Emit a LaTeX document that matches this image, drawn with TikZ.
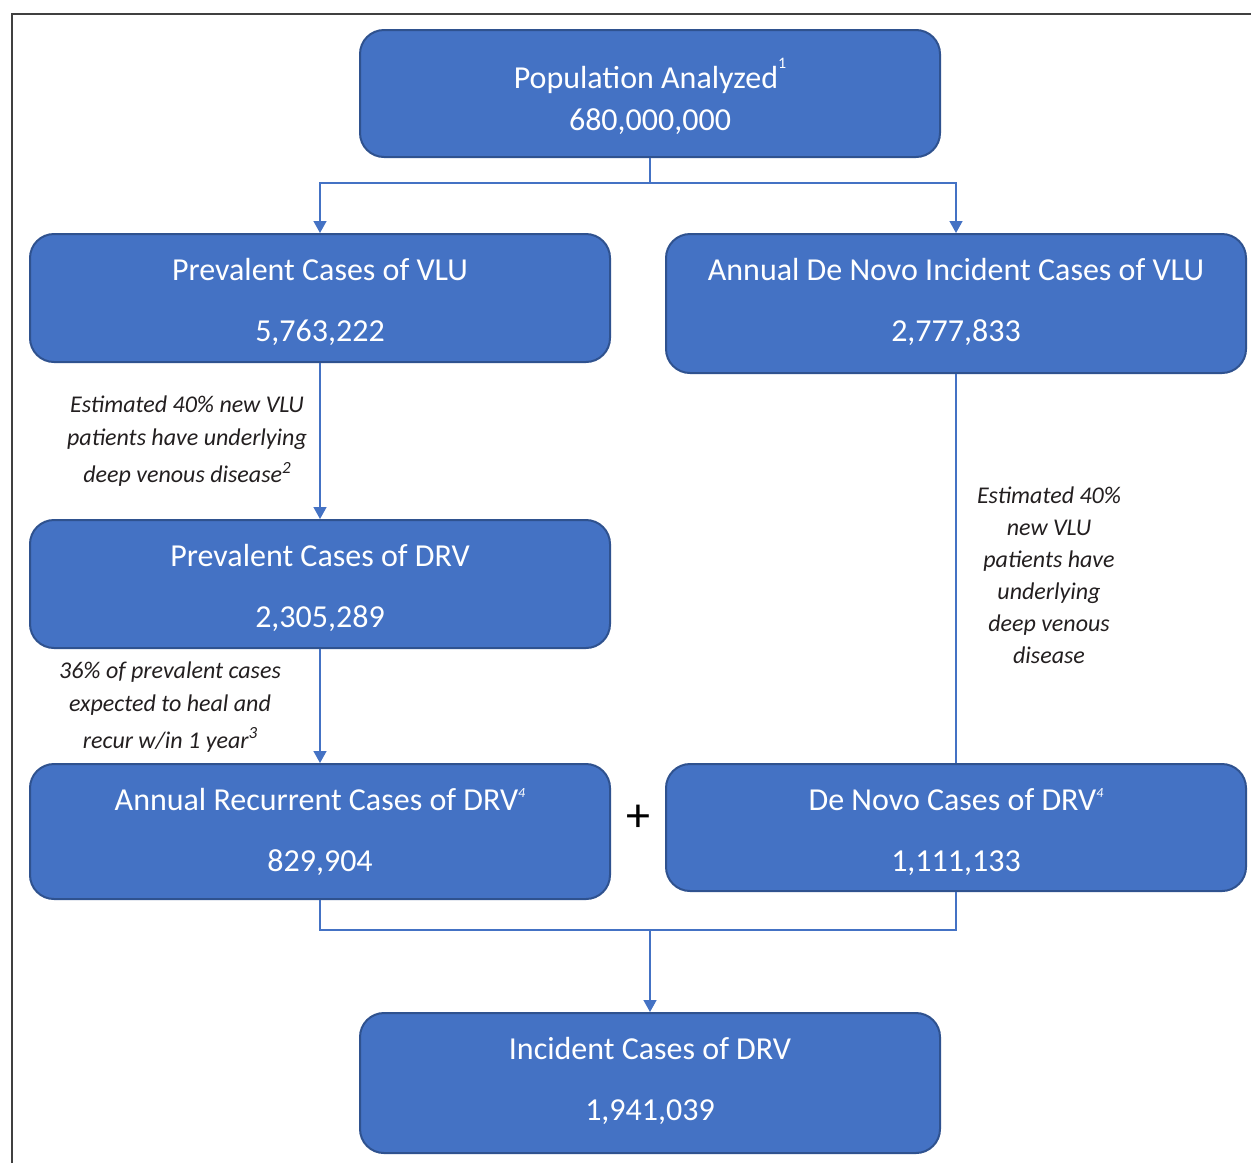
\documentclass[tikz,border=0pt]{standalone}
\usepackage{fontspec}
\setmainfont{Carlito}
\usepackage{tikz}
\usetikzlibrary{arrows.meta,positioning}

\definecolor{boxblue}{HTML}{4472C4}
\definecolor{boxedge}{HTML}{2F528F}
\definecolor{notegray}{HTML}{231F20}

\newcommand{\supnum}[3]{\raisebox{#1em}{\fontsize{#2}{#2}\selectfont #3}}

\begin{document}
\begin{tikzpicture}[x=0.5pt,y=-0.5pt]
\tikzset{box/.style = {shape=rectangle,rounded corners=12pt,draw=boxedge,line width=1pt,fill=boxblue,minimum width=290pt}}
\tikzset{boxtxt/.style = {align=center,text=white,font=\fontsize{16}{19.2}\selectfont}}
\tikzset{note/.style = {align=center,text=notegray,font=\fontsize{12}{16.5}\selectfont\itshape}}
\tikzset{link/.style = {draw=boxblue,line width=0.75pt}}
\tikzset{arr/.style = {link,-{Triangle[length=6pt,width=6.5pt]}}}
\useasboundingbox (0,0) rectangle (1251,1163);
\draw[black!75,line width=1pt] (12,1163) -- (12,14) -- (1251,14);
% boxes
\node[box,minimum height=63.5pt] (pop) at (650,93.5) {};
\node[box,minimum height=64pt] (prevVLU) at (320,298) {};
\node[box,minimum height=69.5pt] (novoVLU) at (956,303.5) {};
\node[box,minimum height=64pt] (prevDRV) at (320,584) {};
\node[box,minimum height=67.5pt] (recDRV) at (320,831.5) {};
\node[box,minimum height=63.5pt] (novoDRV) at (956,827.5) {};
\node[box,minimum height=70pt] (incDRV) at (650,1083) {};
% box texts
\node[boxtxt,below=11.2pt of pop.north] (popTxt) {Population Analyzed\supnum{0.62}{8}{1}\\[1.8pt]680,000,000};
\node[boxtxt,below=9.2pt of prevVLU.north] (prevVLUTxt) {Prevalent Cases of VLU\\[11.3pt]5,763,222};
\node[boxtxt,below=9.2pt of novoVLU.north] (novoVLUTxt) {Annual De Novo Incident Cases of VLU\\[11.3pt]2,777,833};
\node[boxtxt,below=9.2pt of prevDRV.north] (prevDRVTxt) {Prevalent Cases of DRV\\[11.3pt]2,305,289};
\node[boxtxt,below=9.2pt of recDRV.north] (recDRVTxt) {Annual Recurrent Cases of DRV\supnum{0.4}{7}{\itshape 4}\\[11.3pt]829,904};
\node[boxtxt,below=9.2pt of novoDRV.north] (novoDRVTxt) {De Novo Cases of DRV\supnum{0.4}{7}{\itshape 4}\\[11.3pt]1,111,133};
\node[boxtxt,below=9.2pt of incDRV.north] (incDRVTxt) {Incident Cases of DRV\\[11.3pt]1,941,039};
\node (plus) at (638,818) {\fontsize{24}{24}\selectfont +};
% notes
\node[note] (note1) at (187,441) {Estimated 40\% new VLU\\patients have underlying\\[2.2pt]deep venous disease\supnum{0.4}{8.5}{2}};
\node[note] (note2) at (170,707) {36\% of prevalent cases\\expected to heal and\\[1.8pt]recur w/in 1 year\supnum{0.4}{8.5}{3}};
\node[note,font=\fontsize{12}{16}\selectfont\itshape] (note3) at (1049,575) {Estimated 40\%\\new VLU\\patients have\\underlying\\deep venous\\disease};
% connectors
\coordinate (split) at (650,183);
\coordinate (merge) at (650,930);
\draw[link] (pop) -- (split);
\draw[arr] (split) -| (prevVLU);
\draw[arr] (split) -| (novoVLU);
\draw[arr] (prevVLU) -- (prevDRV);
\draw[arr] (prevDRV) -- (recDRV);
\draw[link] (novoVLU) -- (novoDRV);
\draw[link] (recDRV) |- (merge);
\draw[link] (novoDRV) |- (merge);
\draw[arr] (merge) -- (incDRV);
\end{tikzpicture}
\end{document}
